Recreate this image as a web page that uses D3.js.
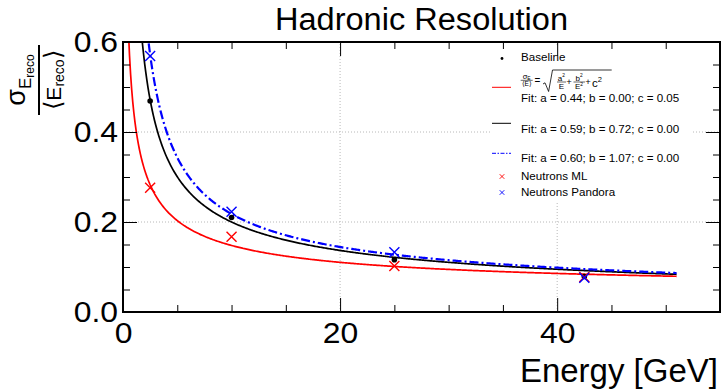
<!DOCTYPE html>
<html>
<head>
<meta charset="utf-8">
<script src="https://cdn.jsdelivr.net/npm/d3@7"></script>
<style>
  body { margin: 0; background: #fff; }
  text { font-family: "Liberation Sans", Arial, Helvetica, sans-serif; fill: #000; }
</style>
</head>
<body>
<div id="chart"></div>
<script>
// ---- data ----
const energies = [2.5, 10, 25, 42.5];
const baseline = [0.469, 0.210, 0.116, 0.079];
const neutronsML = [0.276, 0.167, 0.102, 0.078];
const neutronsPandora = [0.569, 0.223, 0.133, 0.076];

// fit parameters shown in the legend: sigma/E = sqrt(a^2/E + b^2/E^2 + c^2)
const fitNames = ["ml", "baseline", "pandora"];
const fitA = [0.44, 0.59, 0.60];
const fitB = [0.00, 0.72, 1.07];
const fitC = [0.05, 0.00, 0.00];
const fitColors = ["#ff0000", "#000000", "#0000ff"];
const fitRange = [0.3, 51];

const xMajor = [0, 20, 40];
const yMajor = [0, 0.2, 0.4, 0.6];

const W = 724, H = 390;
const margin = { top: 42, right: 4, bottom: 78, left: 123 };

const svg = d3.select("#chart").append("svg")
    .attr("width", W).attr("height", H);

const x = d3.scaleLinear().domain([0, 55]).range([margin.left, W - margin.right]);
const y = d3.scaleLinear().domain([0, 0.6]).range([H - margin.bottom, margin.top]);

const x0 = x.range()[0], x1 = x.range()[1], y0 = y.range()[0], y1 = y.range()[1];

svg.append("defs").append("clipPath").attr("id", "plotclip")
    .append("rect").attr("x", x0).attr("y", y1).attr("width", x1 - x0).attr("height", y0 - y1);

// stretch text horizontally (the reference labels are a bit wider than the font)
function stretch(sel, k) {
    sel.each(function () {
        const len = this.getComputedTextLength();
        d3.select(this).attr("textLength", len * k).attr("lengthAdjust", "spacingAndGlyphs");
    });
}

// grid
const grid = svg.append("g").attr("stroke", "#b8b8b8").attr("stroke-dasharray", "1,2").attr("stroke-width", 1);
grid.selectAll(".gx").data(xMajor.slice(1)).enter().append("line")
    .attr("x1", d => x(d)).attr("x2", d => x(d)).attr("y1", y0).attr("y2", y1);
grid.selectAll(".gy").data(yMajor.slice(1, -1)).enter().append("line")
    .attr("y1", d => y(d)).attr("y2", d => y(d)).attr("x1", x0).attr("x2", x1);

// fit curves
const plot = svg.append("g").attr("clip-path", "url(#plotclip)");
const line = d3.line().x(d => x(d[0])).y(d => y(d[1]));
const eSamples = d3.range(fitRange[0], fitRange[1] + 0.001, 0.1);

fitNames.forEach((n, i) => {
    const pts = eSamples.map(e => [e, Math.sqrt(fitA[i] * fitA[i] / e + fitB[i] * fitB[i] / (e * e) + fitC[i] * fitC[i])]);
    plot.append("path")
        .datum(pts)
        .attr("fill", "none")
        .attr("stroke", fitColors[i])
        .attr("stroke-width", n === "pandora" ? 2.2 : 1.7)
        .attr("stroke-dasharray", n === "pandora" ? "9,3,2,3" : null)
        .attr("d", line);
});

// markers
function crosses(g, vals, color, s, w) {
    g.selectAll(null).data(energies.map((e, i) => [e, vals[i]])).enter().append("path")
        .attr("d", d => `M${x(d[0]) - s},${y(d[1]) - s}L${x(d[0]) + s},${y(d[1]) + s}M${x(d[0]) - s},${y(d[1]) + s}L${x(d[0]) + s},${y(d[1]) - s}`)
        .attr("stroke", color).attr("stroke-width", w).attr("fill", "none");
}
plot.selectAll(".dot").data(energies.map((e, i) => [e, baseline[i]])).enter().append("circle")
    .attr("cx", d => x(d[0])).attr("cy", d => y(d[1])).attr("r", 2.8).attr("fill", "#000");
crosses(plot, neutronsML, "#ff0000", 5, 1.4);
crosses(plot, neutronsPandora, "#0000ff", 5, 1.4);

// legend
const lg = svg.append("g");
lg.append("rect").attr("x", 490).attr("y", 47).attr("width", 202).attr("height", 154).attr("fill", "#fff");
const lx = 502, tx = 521;
lg.append("circle").attr("cx", lx).attr("cy", 58.5).attr("r", 1.4).attr("fill", "#000");
lg.append("text").attr("x", tx).attr("y", 61).attr("font-size", 11.6).text("Baseline");

// formula row
const f = lg.append("g");
const fs = (t, xx, yy, size, anchor) => f.append("text").attr("x", xx).attr("y", yy)
    .attr("font-size", size).attr("text-anchor", anchor || "middle").text(t);
const sg = f.append("text").attr("x", 526.7).attr("y", 79).attr("font-size", 7.5).attr("text-anchor", "middle");
sg.append("tspan").text("σ");
sg.append("tspan").attr("font-size", 5).attr("dy", 1).text("E");
f.append("line").attr("x1", 520.7).attr("x2", 532.7).attr("y1", 80.3).attr("y2", 80.3).attr("stroke", "#000").attr("stroke-width", 0.6);
fs("⟨E⟩", 526.7, 86, 6.5);
fs("=", 537.5, 83.5, 10);
f.append("path").attr("d", "M543,84 L545,82.8 L548.6,91.5 L552.5,70 L611.7,70")
    .attr("fill", "none").attr("stroke", "#000").attr("stroke-width", 0.8);
const sup = (xx, yy, base, exp, size) => {
    const tt = f.append("text").attr("x", xx).attr("y", yy).attr("font-size", size).attr("text-anchor", "middle");
    tt.append("tspan").text(base);
    if (exp) tt.append("tspan").attr("font-size", size * 0.6).attr("dy", -size * 0.4).text(exp);
    return tt;
};
sup(561.3, 80.5, "a", "2", 8);
f.append("line").attr("x1", 557).attr("x2", 566).attr("y1", 82).attr("y2", 82).attr("stroke", "#000").attr("stroke-width", 0.6);
sup(561.3, 89.3, "E", null, 8);
fs("+", 569, 85, 9.5);
sup(579, 80.5, "b", "2", 8);
f.append("line").attr("x1", 573.5).attr("x2", 585).attr("y1", 82).attr("y2", 82).attr("stroke", "#000").attr("stroke-width", 0.6);
sup(579, 89.3, "E", "2", 8);
fs("+", 588, 85, 9.5);
const c2 = f.append("text").attr("x", 592).attr("y", 86.7).attr("font-size", 11.5);
c2.append("tspan").text("c");
c2.append("tspan").attr("font-size", 7.5).attr("dy", -5).text("2");

const legendLines = [
    { y: 87.3, ty: 102, i: 0 },
    { y: 123.3, ty: 132.7, i: 1 },
    { y: 153.3, ty: 162, i: 2 }
];
legendLines.forEach(d => {
    lg.append("line").attr("x1", 492).attr("x2", 511).attr("y1", d.y).attr("y2", d.y)
        .attr("stroke", fitColors[d.i]).attr("stroke-width", 1)
        .attr("stroke-dasharray", fitNames[d.i] === "pandora" ? "4,1.5,1.5,1.5" : null);
    lg.append("text").attr("x", tx).attr("y", d.ty).attr("font-size", 11.6)
        .text(`Fit: a = ${fitA[d.i].toFixed(2)}; b = ${fitB[d.i].toFixed(2)}; c = ${fitC[d.i].toFixed(2)}`);
});
[[176.5, 180, "#ff0000", "Neutrons ML"], [192.5, 196, "#0000ff", "Neutrons Pandora"]].forEach(d => {
    const s = 2.3;
    lg.append("path").attr("d", `M${lx - s},${d[0] - s}L${lx + s},${d[0] + s}M${lx - s},${d[0] + s}L${lx + s},${d[0] - s}`)
        .attr("stroke", d[2]).attr("stroke-width", 0.9);
    lg.append("text").attr("x", tx).attr("y", d[1]).attr("font-size", 11.6).text(d[3]);
});

// axes
const xMinor = d3.range(0, 55.1, 5).filter(v => !xMajor.includes(v));
const yMinor = d3.range(0, 0.601, 0.05).map(v => +v.toFixed(2)).filter(v => !yMajor.includes(v));

function tickAxis(axisFn, scale, pos, major, minor, labels) {
    const gMin = svg.append("g").attr("transform", pos)
        .call(axisFn(scale).tickValues(minor).tickSize(-7).tickFormat(""));
    const gMaj = svg.append("g").attr("transform", pos)
        .call(axisFn(scale).tickValues(major).tickSize(-14).tickPadding(labels ? labels.pad : 3)
            .tickFormat(labels ? labels.fmt : ""));
    [gMin, gMaj].forEach(g => {
        g.select(".domain").remove();
        g.selectAll(".tick line").attr("stroke", "#000").attr("stroke-width", 1);
    });
    const t = gMaj.selectAll("text").attr("font-size", 29)
        .attr("font-family", "Liberation Sans, Arial, sans-serif").attr("fill", "#000");
    if (labels) stretch(t, 1.1);
}
tickAxis(d3.axisBottom, x, `translate(0,${y0})`, xMajor, xMinor, { pad: 10, fmt: d3.format("d") });
tickAxis(d3.axisTop, x, `translate(0,${y1})`, xMajor, xMinor, null);
tickAxis(d3.axisLeft, y, `translate(${x0},0)`, yMajor, yMinor, { pad: 5, fmt: d3.format(".1f") });
tickAxis(d3.axisRight, y, `translate(${x1},0)`, yMajor, yMinor, null);

// frame
svg.append("rect").attr("x", x0).attr("y", y1).attr("width", x1 - x0).attr("height", y0 - y1)
    .attr("fill", "none").attr("stroke", "#000").attr("stroke-width", 2);

// titles
svg.append("text").attr("x", (x0 + x1) / 2).attr("y", 30).attr("font-size", 31)
    .attr("text-anchor", "middle").text("Hadronic Resolution")
    .call(stretch, 1.05);
svg.append("text").attr("x", 718).attr("y", 382).attr("font-size", 33).attr("text-anchor", "end").text("Energy [GeV]");

// y title: sigma_E_reco over <E_reco>
const yt = svg.append("g").attr("transform", "translate(39,80) rotate(-90)");
yt.append("line").attr("x1", -35).attr("x2", 35).attr("y1", 0).attr("y2", 0).attr("stroke", "#000").attr("stroke-width", 2);
const num = yt.append("text").attr("x", 0).attr("y", -14).attr("text-anchor", "middle");
num.append("tspan").attr("font-size", 27).text("σ");
num.append("tspan").attr("font-size", 17).attr("dy", 6).text("E");
num.append("tspan").attr("font-size", 12).attr("dy", 3).text("reco");
const den = yt.append("text").attr("x", 0).attr("y", 22).attr("text-anchor", "middle");
den.append("tspan").attr("font-size", 24).text("⟨");
den.append("tspan").attr("font-size", 21).text("E");
den.append("tspan").attr("font-size", 14).attr("dy", 3).text("reco");
den.append("tspan").attr("font-size", 24).attr("dy", -3).text("⟩");
</script>
</body>
</html>
